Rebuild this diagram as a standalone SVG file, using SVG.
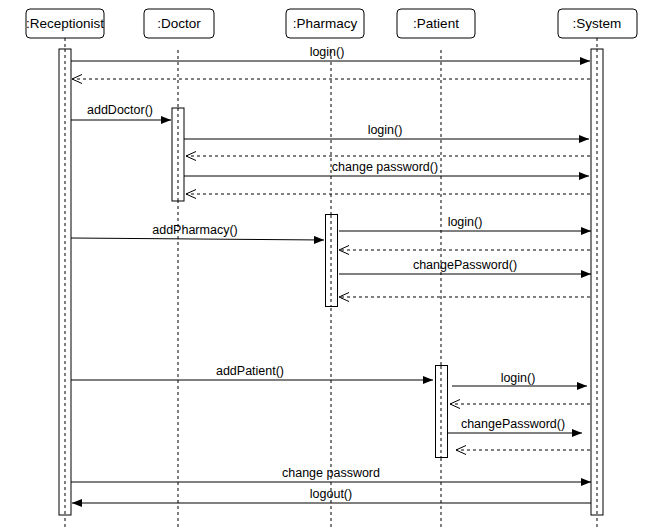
<svg xmlns="http://www.w3.org/2000/svg" width="647" height="529" viewBox="0 0 647 529">
<defs>
<marker id="fill" markerWidth="10" markerHeight="8" refX="10" refY="4" orient="auto" markerUnits="userSpaceOnUse"><path d="M0,0 L10,4 L0,8 z" fill="#000"/></marker>
<marker id="open" markerWidth="12" markerHeight="10" refX="10" refY="5" orient="auto" markerUnits="userSpaceOnUse"><path d="M0,0.5 L10,5 L0,9.5" fill="none" stroke="#000" stroke-width="1"/></marker>
<style>
.hd{fill:#fff;stroke:#000;stroke-width:1}
.ht{font-family:"Liberation Sans",Arial,sans-serif;font-size:13.5px;text-anchor:middle;fill:#000}
.ll{stroke:#000;stroke-width:1;stroke-dasharray:3,3;fill:none}
.bar{fill:#fff;stroke:#000;stroke-width:1}
.msg{stroke:#000;stroke-width:1;fill:none;marker-end:url(#fill)}
.ret{stroke:#000;stroke-width:1;fill:none;stroke-dasharray:3,3;marker-end:url(#open)}
.lb{font-family:"Liberation Sans",Arial,sans-serif;font-size:12.5px;text-anchor:middle;fill:#000}
</style>
</defs>
<rect width="647" height="529" fill="#fff"/>
<g id="receptionist">
<rect class="hd" x="26" y="9" width="78" height="29" rx="4"/>
<text class="ht" x="65" y="28">:Receptionist</text>
<line class="ll" x1="65" y1="38" x2="65" y2="529"/>
<rect class="bar" x="59" y="49" width="12" height="466"/>
<line class="ll" x1="65" y1="49" x2="65" y2="515"/>
</g>
<g id="doctor">
<rect class="hd" x="144" y="9" width="70" height="29" rx="4"/>
<text class="ht" x="179" y="28">:Doctor</text>
<line class="ll" x1="178" y1="50" x2="178" y2="529"/>
<rect class="bar" x="172" y="108" width="12" height="93"/>
<line class="ll" x1="178" y1="108" x2="178" y2="201"/>
</g>
<g id="pharmacy">
<rect class="hd" x="286" y="9" width="78" height="29" rx="4"/>
<text class="ht" x="325" y="28">:Pharmacy</text>
<line class="ll" x1="331" y1="50" x2="331" y2="529"/>
<rect class="bar" x="325.5" y="214.5" width="12" height="92"/>
<line class="ll" x1="331" y1="215" x2="331" y2="306"/>
</g>
<g id="patient">
<rect class="hd" x="397" y="9" width="78" height="29" rx="4"/>
<text class="ht" x="436" y="28">:Patient</text>
<line class="ll" x1="441" y1="50" x2="441" y2="529"/>
<rect class="bar" x="435.5" y="365.5" width="12" height="92"/>
<line class="ll" x1="441" y1="366" x2="441" y2="457"/>
</g>
<g id="system">
<rect class="hd" x="558" y="9" width="79" height="29" rx="4"/>
<text class="ht" x="597" y="28">:System</text>
<line class="ll" x1="597" y1="38" x2="597" y2="529"/>
<rect class="bar" x="591" y="49" width="12" height="466"/>
<line class="ll" x1="597" y1="49" x2="597" y2="515"/>
</g>
<g id="connectors">
<line class="msg" x1="71" y1="61" x2="590" y2="61"/>
<text class="lb" x="327" y="56">login()</text>
<line class="ret" x1="590" y1="79" x2="72" y2="79"/>
<line class="msg" x1="71" y1="120" x2="171" y2="120"/>
<text class="lb" x="120" y="114">addDoctor()</text>
<line class="msg" x1="184" y1="139" x2="589" y2="139"/>
<text class="lb" x="385" y="134">login()</text>
<line class="ret" x1="590" y1="156" x2="186" y2="156"/>
<line class="msg" x1="184" y1="176" x2="589" y2="176"/>
<text class="lb" x="385" y="171">change password()</text>
<line class="ret" x1="590" y1="194" x2="186" y2="194"/>
<line class="msg" x1="71" y1="238" x2="324" y2="240"/>
<text class="lb" x="195" y="234">addPharmacy()</text>
<line class="msg" x1="339" y1="231" x2="591" y2="231"/>
<text class="lb" x="465" y="226">login()</text>
<line class="ret" x1="590" y1="250" x2="339" y2="250"/>
<line class="msg" x1="339" y1="274" x2="591" y2="274"/>
<text class="lb" x="465" y="269">changePassword()</text>
<line class="ret" x1="590" y1="297" x2="339" y2="297"/>
<line class="msg" x1="71" y1="380" x2="433" y2="380"/>
<text class="lb" x="250" y="375">addPatient()</text>
<line class="msg" x1="452" y1="386" x2="587" y2="386"/>
<text class="lb" x="518" y="382">login()</text>
<line class="ret" x1="590" y1="404" x2="450" y2="404"/>
<line class="msg" x1="447" y1="433" x2="582" y2="433"/>
<text class="lb" x="513" y="428">changePassword()</text>
<line class="ret" x1="590" y1="450" x2="456" y2="450"/>
<line class="msg" x1="71" y1="482" x2="591" y2="482"/>
<text class="lb" x="331" y="477">change password</text>
<line class="msg" x1="591" y1="503" x2="72" y2="503"/>
<text class="lb" x="331" y="498">logout()</text>
</g>
</svg>
